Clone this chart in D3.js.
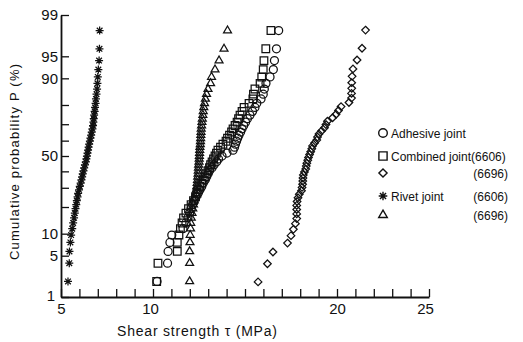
<!DOCTYPE html>
<html>
<head>
<meta charset="utf-8">
<script src="https://cdn.jsdelivr.net/npm/d3@7"></script>
<style>
  body { margin: 0; background: #fff; }
  svg text { font-family: "Liberation Sans", Arial, sans-serif; fill: #111; }
</style>
</head>
<body>
<svg id="chart" width="523" height="342"></svg>
<script>
// shear strength (MPa) of every specimen, sorted
const adhesive = [10.22, 10.79, 10.82, 10.92, 11.02, 11.63, 11.79, 11.90, 11.99, 12.07,
  12.15, 12.24, 12.34, 12.45, 12.55, 12.65, 12.72, 12.83, 12.91, 12.99,
  13.07, 13.21, 13.32, 13.46, 13.56, 13.75, 14.02, 14.35, 14.43, 14.48,
  14.54, 14.60, 14.67, 14.76, 14.84, 14.93, 15.03, 15.13, 15.27, 15.41,
  15.54, 15.64, 15.87, 15.99, 16.05, 16.14, 16.36, 16.54, 16.60, 16.71, 16.83];
const combined6606 = [10.20, 10.27, 11.32, 11.32, 11.41, 11.49, 11.58, 11.66, 11.79, 11.93,
  12.07, 12.20, 12.31, 12.39, 12.47, 12.55, 12.64, 12.73, 12.83, 12.92,
  12.99, 13.07, 13.13, 13.21, 13.29, 13.37, 13.45, 13.53, 13.67, 13.80,
  13.97, 14.05, 14.16, 14.27, 14.35, 14.46, 14.57, 14.65, 14.73, 14.84,
  14.95, 15.22, 15.43, 15.46, 15.54, 15.82, 15.91, 15.99, 16.03, 16.13, 16.41];
const combined6696 = [15.71, 16.22, 16.52, 17.31, 17.50, 17.63, 17.74, 17.81, 17.81, 17.81,
  17.81, 17.83, 17.88, 17.95, 18.07, 18.10, 18.13, 18.14, 18.15, 18.17,
  18.23, 18.30, 18.33, 18.36, 18.41, 18.45, 18.51, 18.57, 18.63, 18.67,
  18.78, 18.90, 18.94, 19.02, 19.16, 19.32, 19.40, 19.48, 19.76, 19.95,
  20.08, 20.22, 20.65, 20.79, 20.79, 20.80, 20.80, 20.82, 20.87, 21.09, 21.36, 21.55];
const rivet6606 = [5.38, 5.45, 5.46, 5.51, 5.55, 5.61, 5.66, 5.71, 5.75, 5.79,
  5.83, 5.86, 5.90, 5.93, 5.98, 6.02, 6.07, 6.11, 6.15, 6.18,
  6.22, 6.26, 6.30, 6.35, 6.38, 6.41, 6.44, 6.47, 6.50, 6.53,
  6.57, 6.60, 6.64, 6.67, 6.71, 6.74, 6.76, 6.78, 6.80, 6.83,
  6.85, 6.88, 6.90, 6.93, 6.96, 6.98, 7.00, 7.03, 7.07, 7.09, 7.10];
const rivet6696 = [11.99, 11.99, 11.99, 12.01, 12.02, 12.04, 12.05, 12.08, 12.12, 12.16,
  12.20, 12.24, 12.28, 12.32, 12.35, 12.38, 12.40, 12.42, 12.43, 12.45,
  12.46, 12.47, 12.48, 12.50, 12.51, 12.52, 12.53, 12.54, 12.55, 12.57,
  12.58, 12.59, 12.60, 12.61, 12.62, 12.64, 12.66, 12.68, 12.71, 12.73,
  12.76, 12.80, 12.85, 12.91, 12.99, 13.13, 13.18, 13.37, 13.59, 13.86, 14.05];

const xTicks = [5, 6, 7, 8, 9, 10, 11, 12, 13, 14, 15, 16, 17, 18, 19, 20, 21, 22, 23, 24, 25];
const xLabels = [5, 10, 20, 25];
const yTicks = [1, 5, 10, 20, 30, 40, 50, 60, 70, 80, 90, 95, 99];
const yLabels = [1, 5, 10, 50, 90, 95, 99];

const legendLeft = ["Adhesive  joint", "Combined  joint(6606)", "", "Rivet joint", ""];
const legendRight = ["", "", "(6696)", "(6606)", "(6696)"];

// inverse normal cdf (Acklam)
function probit(p) {
  const a = [-39.6968302866538, 220.946098424521, -275.928510446969, 138.357751867269, -30.6647980661472, 2.50662827745924];
  const b = [-54.4760987982241, 161.585836858041, -155.698979859887, 66.8013118877197, -13.2806815528857];
  const c = [-0.00778489400243029, -0.322396458041136, -2.40075827716184, -2.54973253934373, 4.37466414146497, 2.93816398269878];
  const d = [0.00778469570904146, 0.32246712907004, 2.445134137143, 3.75440866190742];
  const pl = 0.02425;
  let q, r;
  if (p < pl) {
    q = Math.sqrt(-2 * Math.log(p));
    return (((((c[0]*q+c[1])*q+c[2])*q+c[3])*q+c[4])*q+c[5]) / ((((d[0]*q+d[1])*q+d[2])*q+d[3])*q+1);
  }
  if (p > 1 - pl) {
    q = Math.sqrt(-2 * Math.log(1 - p));
    return -(((((c[0]*q+c[1])*q+c[2])*q+c[3])*q+c[4])*q+c[5]) / ((((d[0]*q+d[1])*q+d[2])*q+d[3])*q+1);
  }
  q = p - 0.5; r = q * q;
  return (((((a[0]*r+a[1])*r+a[2])*r+a[3])*r+a[4])*r+a[5])*q / (((((b[0]*r+b[1])*r+b[2])*r+b[3])*r+b[4])*r+1);
}

// marker shapes
function diamond(r) {
  const p = d3.path();
  p.moveTo(0, -r); p.lineTo(r, 0); p.lineTo(0, r); p.lineTo(-r, 0); p.closePath();
  return p.toString();
}
function star(r) {
  const p = d3.path();
  for (let k = 0; k < 4; k++) {
    const a = k * Math.PI / 4;
    p.moveTo(-r * Math.cos(a), -r * Math.sin(a));
    p.lineTo(r * Math.cos(a), r * Math.sin(a));
  }
  return p.toString();
}
const shapes = {
  circle: r => d3.symbol(d3.symbolCircle, Math.PI * r * r)(),
  square: r => d3.symbol(d3.symbolSquare, 4 * r * r)(),
  diamond: r => diamond(r * 1.05),
  star: r => star(r),
  triangle: r => d3.symbol(d3.symbolTriangle, r * r * 2.1)()
};

const series = [
  { values: adhesive, shape: "circle", r: 4 },
  { values: combined6606, shape: "square", r: 3.8 },
  { values: combined6696, shape: "diamond", r: 3.6 },
  { values: rivet6606, shape: "star", r: 4 },
  { values: rivet6696, shape: "triangle", r: 3.6 }
];

const svg = d3.select("#chart");

const x = d3.scaleLinear().domain([5, 25]).range([61, 429]);
const z = d3.scaleLinear().domain([probit(0.01), probit(0.99)]).range([297, 15]);
const y = p => z(probit(p / 100));

// x axis
const xAxis = svg.append("g")
  .attr("transform", "translate(0,297)")
  .call(d3.axisBottom(x)
    .tickValues(xTicks)
    .tickSizeInner(-8)
    .tickSizeOuter(0)
    .tickPadding(6)
    .tickFormat(d => xLabels.includes(d) ? d : ""));
xAxis.selectAll("text").style("font-size", "15px");
xAxis.selectAll(".tick").filter(d => d === 25).select("text").attr("x", -4);
xAxis.selectAll(".tick").filter(d => d === 10).select("text").attr("x", -3);

// y axis (normal probability scale)
const yAxis = svg.append("g")
  .attr("transform", "translate(61,0)")
  .call(d3.axisLeft(z)
    .tickValues(yTicks.map(p => probit(p / 100)))
    .tickSizeInner(-8)
    .tickSizeOuter(0)
    .tickPadding(3)
    .tickFormat((d, i) => yLabels.includes(yTicks[i]) ? yTicks[i] : ""));
yAxis.selectAll("text").style("font-size", "15px");
yAxis.selectAll(".tick").filter((d, i) => yTicks[i] === 1).select("text").attr("x", -6).attr("dy", "0.2em");

svg.selectAll(".domain").attr("stroke", "#111").attr("stroke-width", 1.8);
svg.selectAll(".tick line").attr("stroke", "#111").attr("stroke-width", 1.3);
svg.selectAll(".tick text").attr("fill", "#111");

// points at plotting position i/(n+1)
series.forEach(s => {
  const n = s.values.length;
  svg.append("g")
    .selectAll("path")
    .data(s.values.map((v, i) => ({ v: v, p: (i + 1) / (n + 1) * 100 })))
    .join("path")
    .attr("transform", d => `translate(${x(d.v)},${y(d.p)})`)
    .attr("d", shapes[s.shape](s.r))
    .attr("fill", "none")
    .attr("stroke", "#111")
    .attr("stroke-width", 1.25);
});

// axis titles
svg.append("text")
  .attr("transform", "translate(19,162) rotate(-90)")
  .attr("text-anchor", "middle")
  .attr("textLength", 196)
  .style("font-size", "13px")
  .text("Cumulative  probability  P (%)");

svg.append("text")
  .attr("x", 117)
  .attr("y", 336)
  .attr("textLength", 160)
  .style("font-size", "14px")
  .text("Shear  strength  τ  (MPa)");

// legend
const legendY = [133, 156, 173, 196, 215];
const legend = svg.append("g");
series.forEach((s, i) => {
  legend.append("path")
    .attr("transform", `translate(383,${legendY[i]})`)
    .attr("d", shapes[s.shape](s.r + 0.3))
    .attr("fill", "none")
    .attr("stroke", "#111")
    .attr("stroke-width", 1.4);
  legend.append("text")
    .attr("x", 391).attr("y", legendY[i] + 4.5)
    .style("font-size", "12px")
    .text(legendLeft[i]);
  legend.append("text")
    .attr("x", 508).attr("y", legendY[i] + 4.5)
    .attr("text-anchor", "end")
    .style("font-size", "12px")
    .text(legendRight[i]);
});
</script>
</body>
</html>
